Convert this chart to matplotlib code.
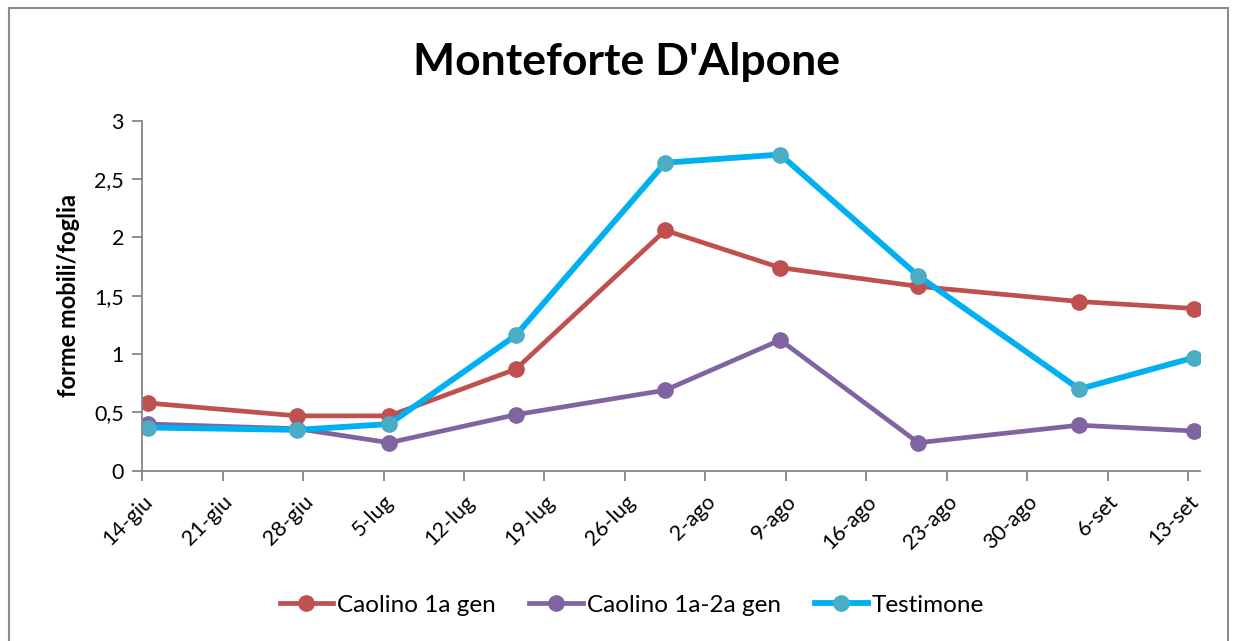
import datetime as dt
import matplotlib
matplotlib.use("Agg")
import matplotlib.pyplot as plt
from matplotlib.patches import Rectangle

# dati
date_rilievi = ["2013-06-14", "2013-06-27", "2013-07-05", "2013-07-16", "2013-07-29",
                "2013-08-08", "2013-08-20", "2013-09-03", "2013-09-13"]
caolino_1a = [0.58, 0.47, 0.47, 0.87, 2.06, 1.74, 1.58, 1.45, 1.39]
caolino_1a_2a = [0.40, 0.36, 0.24, 0.48, 0.69, 1.12, 0.24, 0.39, 0.34]
testimone = [0.37, 0.35, 0.40, 1.16, 2.64, 2.71, 1.67, 0.70, 0.97]

tick_date = ["2013-06-14", "2013-06-21", "2013-06-28", "2013-07-05", "2013-07-12",
             "2013-07-19", "2013-07-26", "2013-08-02", "2013-08-09", "2013-08-16",
             "2013-08-23", "2013-08-30", "2013-09-06", "2013-09-13"]
tick_labels = ["14-giu", "21-giu", "28-giu", "5-lug", "12-lug", "19-lug", "26-lug",
               "2-ago", "9-ago", "16-ago", "23-ago", "30-ago", "6-set", "13-set"]
y_ticks = [0, 0.5, 1, 1.5, 2, 2.5, 3]
y_labels = ["0", "0,5", "1", "1,5", "2", "2,5", "3"]

plt.rcParams["font.family"] = ["Lato", "DejaVu Sans"]

# Excel mette il punto a metà giornata
x = [dt.datetime.fromisoformat(d) + dt.timedelta(hours=12) for d in date_rilievi]
ticks = [dt.datetime.fromisoformat(d) for d in tick_date]

fig = plt.figure(figsize=(12.34, 6.41), dpi=100)
ax = fig.add_axes([0.1151, 0.2657, 0.8573, 0.546])

ax.plot(x, caolino_1a, color="#C0504D", lw=3.4, marker="o", ms=11,
        mfc="#C0504D", mec="#C0504D", label="Caolino 1a gen")
ax.plot(x, caolino_1a_2a, color="#8064A2", lw=3.4, marker="o", ms=11,
        mfc="#8064A2", mec="#8064A2", label="Caolino 1a-2a gen")
ax.plot(x, testimone, color="#00B0F0", lw=4.2, marker="o", ms=11,
        mfc="#4BACC6", mec="#4BACC6", label="Testimone")

ax.set_xlim(ticks[0], ticks[-1] + dt.timedelta(days=1))
ax.set_ylim(0, 3)
ax.set_xticks(ticks)
ax.set_xticklabels(tick_labels, rotation=45, ha="right", rotation_mode="anchor", fontsize=15.5)
ax.set_yticks(y_ticks)
ax.set_yticklabels(y_labels, fontsize=15.5)
ax.tick_params(axis="both", direction="out", length=7, width=1.3, color="#868686", pad=6)
ax.tick_params(axis="x", pad=8)

for s in ["top", "right"]:
    ax.spines[s].set_visible(False)
for s in ["left", "bottom"]:
    ax.spines[s].set_color("#868686")
    ax.spines[s].set_linewidth(1.3)

ax.set_ylabel("forme mobili/foglia", fontsize=17, fontweight="bold", labelpad=10)
fig.text(0.508, 0.903, "Monteforte D'Alpone", ha="center", va="center",
         fontsize=32, fontweight="bold")

fig.legend(loc="center", bbox_to_anchor=(0.512, 0.056), ncol=3, frameon=False,
           fontsize=17.5, handlelength=2.2, columnspacing=1.4, handletextpad=0.15)

# bordo dell'area grafico
fig.patches.append(Rectangle((9 / 1234, -0.05), 1219 / 1234, 1 - 8 / 641 + 0.05,
                             transform=fig.transFigure, fill=False,
                             edgecolor="#8C8C8C", lw=1.5))

fig.savefig("out.png", dpi=100)
